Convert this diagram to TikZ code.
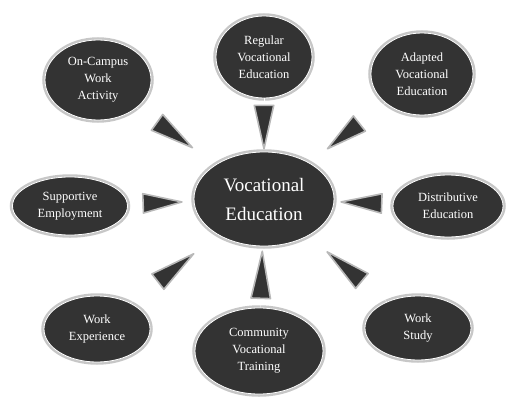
\documentclass[tikz,border=0pt]{standalone}
\usepackage{fontspec}
\setmainfont{Liberation Serif}
\usepackage{tikz}
\usetikzlibrary{positioning}
\usetikzlibrary{shapes.geometric,arrows.meta}

% dark oval with a light rim
\tikzset{
	bubble/.style={ellipse, fill=black!80, draw=white, line width=0.8pt,
		text=white, align=center, inner sep=0pt,
		preaction={draw=black!22, line width=5.5pt},
		font=\fontsize{12.5}{17}\selectfont},
	hub/.style={bubble, font=\fontsize{19}{29}\selectfont},
	% the line itself stays white, only the wedge shows
	wedge/.style={draw=white, line width=0.2pt,
		-{Triangle[color=black!28, fill=black!80, line width=1.6pt, round,
		length=#1, width=21pt]}},
}

\begin{document}
\begin{tikzpicture}[x=1pt, y=-1pt]

	\useasboundingbox (0,0) rectangle (509,399);

	% centre
	\node[hub, minimum width=140pt, minimum height=94pt] (voc) at (264,199) {Vocational\\Education};

	% ring of outer ovals, clockwise from the top
	\node[bubble, minimum width=96pt,  minimum height=82pt] (reg)    at (264,57)  {Regular\\Vocational\\Education};
	\node[bubble, minimum width=102pt, minimum height=82pt] (adapt)  at (422,74)  {Adapted\\Vocational\\Education};
	\node[bubble, minimum width=110pt, minimum height=62pt] (distr)  at (448,206) {Distributive\\Education};
	\node[bubble, minimum width=106pt, minimum height=64pt] (wstudy) at (418,328) {Work\\Study};
	\node[bubble, minimum width=128pt, minimum height=86pt] (comm)   at (259,351) {Community\\Vocational\\Training};
	\node[bubble, minimum width=106pt, minimum height=66pt] (wexp)   at (97,329)  {Work\\Experience};
	\node[bubble, minimum width=115pt, minimum height=58pt] (supp)   at (70,206)  {Supportive\\Employment};
	\node[bubble, minimum width=106pt, minimum height=80pt] (oncamp) at (98,80)   {On-Campus\\Work\\Activity};

	% wedges pointing in to the centre
	\draw[wedge=48pt, shorten >=2pt]  (reg)    -- (voc);
	\draw[wedge=45pt, shorten >=22pt] (adapt)  -- (voc);
	\draw[wedge=45pt, shorten >=6pt]  (distr)  -- (voc);
	\draw[wedge=50pt, shorten >=24pt] (wstudy) -- (voc);
	\draw[wedge=52pt, shorten >=4pt]  (comm)   -- (voc);
	\draw[wedge=50pt, shorten >=30pt] (wexp)   -- (voc);
	\draw[wedge=43pt, shorten >=11pt] (supp)   -- (voc);
	\draw[wedge=48pt, shorten >=28pt] (oncamp) -- (voc);

\end{tikzpicture}
\end{document}
